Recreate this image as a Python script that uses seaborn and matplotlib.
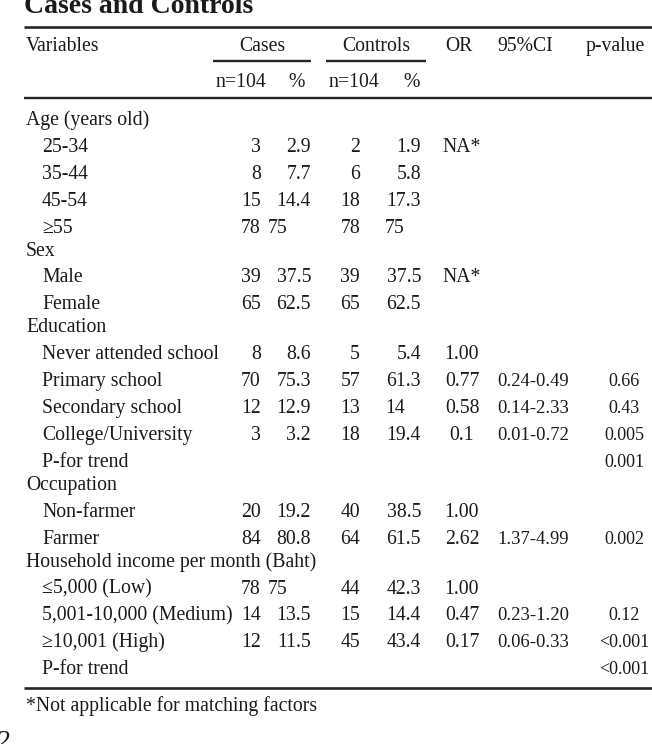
import matplotlib
matplotlib.use("Agg")
import matplotlib.pyplot as plt
import seaborn as sns

# table contents
labels = ["Age (years old)", "25-34", "35-44", "45-54", "≥55",
          "Sex", "Male", "Female",
          "Education", "Never attended school", "Primary school", "Secondary school",
          "College/University", "P-for trend",
          "Occupation", "Non-farmer", "Farmer",
          "Household income per month (Baht)", "≤5,000 (Low)", "5,001-10,000 (Medium)",
          "≥10,001 (High)", "P-for trend"]
is_sub = [0, 1, 1, 1, 1,
          0, 1, 1,
          0, 1, 1, 1, 1, 1,
          0, 1, 1,
          0, 1, 1, 1, 1]
cases_n = ["", "3", "8", "15", "78", "", "39", "65", "", "8", "70", "12", "3", "",
           "", "20", "84", "", "78", "14", "12", ""]
cases_pct = ["", "2.9", "7.7", "14.4", "75", "", "37.5", "62.5", "", "8.6", "75.3", "12.9", "3.2", "",
             "", "19.2", "80.8", "", "75", "13.5", "11.5", ""]
controls_n = ["", "2", "6", "18", "78", "", "39", "65", "", "5", "57", "13", "18", "",
              "", "40", "64", "", "44", "15", "45", ""]
controls_pct = ["", "1.9", "5.8", "17.3", "75", "", "37.5", "62.5", "", "5.4", "61.3", "14", "19.4", "",
                "", "38.5", "61.5", "", "42.3", "14.4", "43.4", ""]
odds_ratio = ["", "NA*", "", "", "", "", "NA*", "", "", "1.00", "0.77", "0.58", "0.1", "",
              "", "1.00", "2.62", "", "1.00", "0.47", "0.17", ""]
ci95 = ["", "", "", "", "", "", "", "", "", "", "0.24-0.49", "0.14-2.33", "0.01-0.72", "",
        "", "", "1.37-4.99", "", "", "0.23-1.20", "0.06-0.33", ""]
p_value = ["", "", "", "", "", "", "", "", "", "", "0.66", "0.43", "0.005", "0.001",
           "", "", "0.002", "", "", "0.12", "<0.001", "<0.001"]

title = "Cases and Controls"
footnote = "*Not applicable for matching factors"

sns.set_theme(style="white")
plt.rcParams["font.family"] = ["Liberation Serif", "DejaVu Serif"]
ink = "#1a1a1a"

fig = plt.figure(figsize=(6.52, 7.44), dpi=100)
ax = fig.add_axes([0, 0, 1, 1])
ax.set_xlim(0, 652)
ax.set_ylim(744, 0)
ax.axis("off")

fs = 14.2
fs_ci = 13.4
fs_p = 13

ax.text(24, 13, title, fontsize=20, fontweight="bold", color=ink, va="baseline")

# rules
ax.hlines([27, 688], 24, 652, color="#262626", lw=1.9)
ax.hlines(98, 24, 652, color="#262626", lw=1.7)
ax.hlines(61, 213, 311, color="#262626", lw=1.7)
ax.hlines(61, 326, 426, color="#262626", lw=1.7)

# header
hy1, hy2 = 51, 87
ax.text(26, hy1, "Variables", fontsize=fs, color=ink, va="baseline")
ax.text(262, hy1, "Cases", fontsize=fs, color=ink, va="baseline", ha="center")
ax.text(376, hy1, "Controls", fontsize=fs, color=ink, va="baseline", ha="center")
ax.text(459, hy1, "OR", fontsize=fs, color=ink, va="baseline", ha="center")
ax.text(525, hy1, "95%CI", fontsize=fs, color=ink, va="baseline", ha="center")
ax.text(615, hy1, "p-value", fontsize=fs, color=ink, va="baseline", ha="center")
for cx, px in [(241, 297), (354, 412)]:
    ax.text(cx, hy2, "n=104", fontsize=fs, color=ink, va="baseline", ha="center")
    ax.text(px, hy2, "%", fontsize=fs, color=ink, va="baseline", ha="center")


def put_pct(x_left, x_right, y, s):
    # whole numbers sit flush left, decimals flush right
    if "." in s:
        ax.text(x_right, y, s, fontsize=fs, color=ink, va="baseline", ha="right")
    elif s:
        ax.text(x_left, y, s, fontsize=fs, color=ink, va="baseline", ha="left")


y = 125
for i, lab in enumerate(labels):
    if i > 0:
        y += 26.9 if is_sub[i] else 23
    ax.text(42 if is_sub[i] else 26, y, lab, fontsize=fs, color=ink, va="baseline")
    ax.text(261, y, cases_n[i], fontsize=fs, color=ink, va="baseline", ha="right")
    put_pct(268, 311, y, cases_pct[i])
    ax.text(360, y, controls_n[i], fontsize=fs, color=ink, va="baseline", ha="right")
    put_pct(385, 421, y, controls_pct[i])
    ax.text(462, y, odds_ratio[i], fontsize=fs, color=ink, va="baseline", ha="center")
    ax.text(497, y, ci95[i], fontsize=fs_ci, color=ink, va="baseline", ha="left")
    ax.text(624, y, p_value[i], fontsize=fs_p, color=ink, va="baseline", ha="center")

ax.text(26, 711, footnote, fontsize=fs, color=ink, va="baseline")
ax.text(-4, 749, "2", fontsize=20, color=ink, va="baseline", style="italic")

fig.savefig("out.png", dpi=100)
